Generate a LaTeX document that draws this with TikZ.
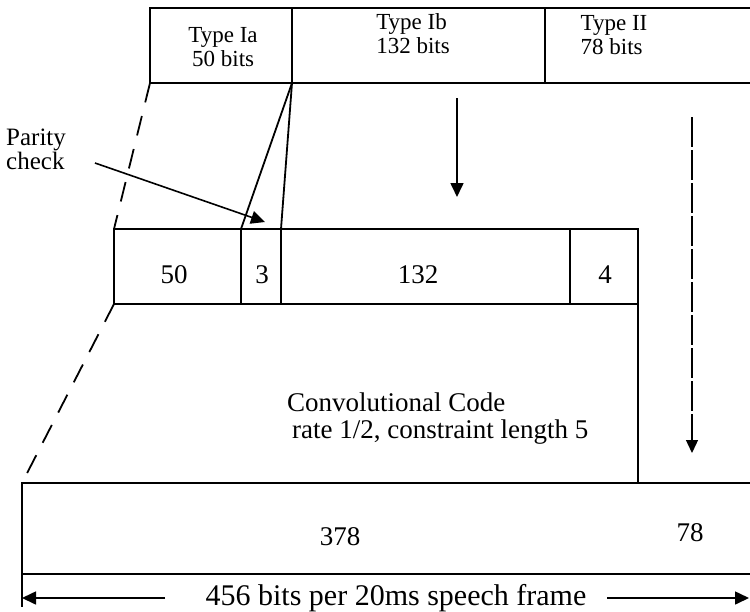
\documentclass[tikz,border=0pt]{standalone}
\usepackage{fontspec}
\setmainfont{Liberation Serif}
\usetikzlibrary{arrows.meta}
\begin{document}
\begin{tikzpicture}[x=1pt,y=-1pt,
  line/.style={line width=1.8pt},
  dashline/.style={line width=1.8pt, dash pattern=on 20pt off 14pt},
  bigarrow/.style={line width=1.6pt, -{Triangle[length=14pt,width=13pt]}},
  smallarrow/.style={line width=1.3pt, dash pattern=on 30pt off 3pt, -{Triangle[length=13pt,width=12pt]}},
  lbl/.style={inner sep=0pt, font=\fontsize{27}{27}\selectfont},
  toplbl/.style={inner sep=0pt, align=left, font=\fontsize{23}{24}\selectfont}]
\useasboundingbox (0,0) rectangle (750,611);
% top bar
\draw[line] (750,8) -- (150,8) -- (150,83) -- (750,83);
\draw[line] (292,8) -- (292,83);
\draw[line] (545,8) -- (545,83);
% middle bar
\draw[line] (114,229) rectangle (638,304);
\draw[line] (241,229) -- (241,304);
\draw[line] (281,229) -- (281,304);
\draw[line] (570,229) -- (570,304);
% bottom bar
\draw[line] (750,483) -- (22,483) -- (22,574) -- (750,574);
\draw[line] (22,574) -- (22,607);
% coordinates
\coordinate (a1) at (150,83);
\coordinate (a2) at (292,83);
\coordinate (b1) at (114,229);
\coordinate (b2) at (241,229);
\coordinate (b3) at (281,229);
\coordinate (b4) at (114,304);
\coordinate (b5) at (638,304);
\coordinate (c1) at (22,483);
\coordinate (c2) at (638,483);
\coordinate (ib1) at (457,98);
\coordinate (ib2) at (457,197);
\coordinate (ii1) at (692,117);
\coordinate (ii2) at (692,453);
\coordinate (p1) at (95,163);
\coordinate (p2) at (265,222);
\coordinate (l0) at (22,598);
\coordinate (l1) at (165,598);
\coordinate (r0) at (607,598);
\coordinate (r1) at (749,598);
% labels
\node[toplbl] (ia) at (223,47) {Type Ia\\\,50 bits};
\node[toplbl] (ib) at (413,34) {Type Ib\\132 bits};
\node[toplbl] (ii) at (614,35) {Type II\\78 bits};
\node[inner sep=0pt, anchor=west, align=left, font=\fontsize{25}{22}\selectfont] (par) at (6,149) {Parity\\check};
\node[lbl] (n50) at (174,275) {50};
\node[lbl] (n3) at (262,275) {3};
\node[lbl] (n132) at (418,275) {132};
\node[lbl] (n4) at (605,275) {4};
\node[lbl, anchor=west, align=left] (conv) at (287,419) {Convolutional Code\\\hspace{5pt}rate 1/2, constraint length 5};
\node[lbl] (n378) at (340,537) {378};
\node[lbl] (n78) at (690,533) {78};
\node[lbl, font=\fontsize{30}{30}\selectfont] (frame) at (396,598) {456 bits per 20ms speech frame};
% connectors
\draw[dashline] (a1) -- (b1);
\draw[line] (a2) -- (b2);
\draw[line] (a2) -- (b3);
\draw[dashline] (b4) -- (c1);
\draw[line] (b5) -- (c2);
\draw[bigarrow] (ib1) -- (ib2);
\draw[smallarrow] (ii1) -- (ii2);
\draw[bigarrow] (p1) -- (p2);
\draw[bigarrow] (l1) -- (l0);
\draw[bigarrow] (r0) -- (r1);
\end{tikzpicture}
\end{document}
